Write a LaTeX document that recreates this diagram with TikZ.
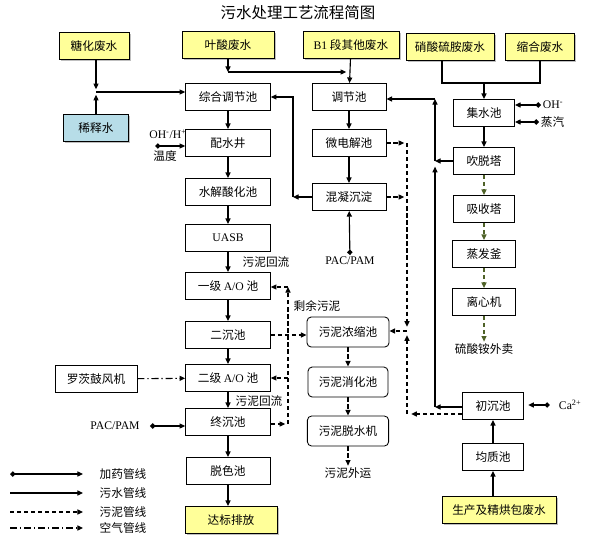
\documentclass[tikz,border=0pt]{standalone}
\usepackage{fontspec}
\setmainfont{Noto Sans CJK SC}
\newfontfamily\lat{Liberation Serif}
\usepackage{tikz}
\usetikzlibrary{arrows.meta}
\usetikzlibrary{shadows}
\definecolor{feedyellow}{RGB}{255,255,153}
\definecolor{dilblue}{RGB}{183,221,232}
\definecolor{olv}{RGB}{79,98,40}

\begin{document}
\begin{tikzpicture}[thick,x=0.025cm,y=-0.025cm,>={Triangle[length=4pt,width=3.6pt]}]

	\tikzstyle{unit} = [draw,line width=0.6pt,fill=white,minimum height=0.675cm,inner sep=1pt,font=\fontsize{8.3pt}{10pt}\selectfont]
	\tikzstyle{feed} = [unit,fill=feedyellow,drop shadow={shadow xshift=1.3pt,shadow yshift=-1.3pt,fill=black!50}]
	\tikzstyle{sludgeunit} = [unit,rounded corners=3pt,minimum height=0.75cm]
	\tikzstyle{lbl} = [inner sep=1pt,font=\fontsize{8.3pt}{10pt}\selectfont]
	\tikzstyle{water} = [->]
	\tikzstyle{dose} = [{Diamond[length=4pt,width=4pt]}-{Triangle[length=4pt,width=3.6pt]}]
	\tikzstyle{sludge} = [->,dash pattern=on 3pt off 2pt]
	\tikzstyle{ammonia} = [sludge,olv]
	\tikzstyle{air} = [->,dash pattern=on 5pt off 2pt on 1pt off 2pt]

	\useasboundingbox (0,0) rectangle (596,545);

	\node[font=\fontsize{11pt}{13pt}\selectfont] (title) at (298,13) {污水处理工艺流程简图};

	% waste water sources
	\node[feed,minimum width=1.75cm] (thfs) at (94,46) {糖化废水};
	\node[feed,minimum width=2.3cm] (ysfs) at (228,45) {叶酸废水};
	\node[feed,minimum width=2.4cm] (b1fs) at (351,45) {{\lat B1} 段其他废水};
	\node[feed,minimum width=2.2cm] (xsfs) at (450,47) {硝酸硫胺废水};
	\node[feed,minimum width=1.72cm] (shfs) at (540,47) {缩合废水};
	\node[feed,fill=dilblue,minimum width=1.62cm] (xss) at (96,128) {稀释水};
	\node[feed,minimum width=2.85cm] (scfs) at (499,510) {生产及精烘包废水};

	% main line
	\node[unit,minimum width=2.12cm] (zhtj) at (228,97) {综合调节池};
	\node[unit,minimum width=2.12cm] (psj) at (228,143) {配水井};
	\node[unit,minimum width=2.12cm] (sjsh) at (228,192) {水解酸化池};
	\node[unit,minimum width=2.12cm] (uasb) at (228,238) {\lat UASB};
	\node[unit,minimum width=2.12cm] (ao1) at (228,286) {一级 {\lat A/O} 池};
	\node[unit,minimum width=2.12cm] (ecc) at (228,335) {二沉池};
	\node[unit,minimum width=2.12cm] (ao2) at (228,378) {二级 {\lat A/O} 池};
	\node[unit,minimum width=2.12cm] (zcc) at (228,422) {终沉池};
	\node[unit,minimum width=2.1cm] (tsc) at (228,471) {脱色池};
	\node[feed,minimum width=2.3cm] (dbpf) at (231,520) {达标排放};
	\node[unit,minimum width=2.05cm] (lcgf) at (96,379) {罗茨鼓风机};

	\node[unit,minimum width=1.85cm] (tjc) at (349,97) {调节池};
	\node[unit,minimum width=1.85cm] (wdj) at (349,143) {微电解池};
	\node[unit,minimum width=1.85cm] (hnct) at (349,197) {混凝沉淀};

	% sludge line
	\node[sludgeunit,minimum width=2.05cm] (wnns) at (348,332) {污泥浓缩池};
	\node[sludgeunit,minimum width=2cm] (wnxh) at (348,382) {污泥消化池};
	\node[sludgeunit,minimum width=2.03cm] (wntg) at (348,431) {污泥脱水机};
	\node[lbl] (wnwy) at (348,473) {污泥外运};

	% ammonium sulphate line
	\node[unit,minimum width=1.53cm] (jsc) at (484,113) {集水池};
	\node[unit,minimum width=1.53cm] (cts) at (484,161) {吹脱塔};
	\node[unit,minimum width=1.53cm] (xst) at (484,209) {吸收塔};
	\node[unit,minimum width=1.57cm] (zff) at (484,254) {蒸发釜};
	\node[unit,minimum width=1.57cm] (lxj) at (484,302) {离心机};
	\node[lbl] (lsa) at (484,349) {硫酸铵外卖};
	\node[unit,minimum width=1.53cm] (ccc) at (493,406) {初沉池};
	\node[unit,minimum width=1.53cm] (jzc) at (493,457) {均质池};

	% labels
	\node[lbl] (hl1) at (266,262) {污泥回流};
	\node[lbl] (hl2) at (259,401) {污泥回流};
	\node[lbl] (sywn) at (317,306) {剩余污泥};
	\node[lbl] (pp1) at (350,261) {\lat PAC/PAM};
	\node[lbl] (pp2) at (115,426) {\lat PAC/PAM};
	\node[lbl] (ohh) at (168,134) {\lat OH\textsuperscript{-}/H\textsuperscript{+}};
	\node[lbl] (wd) at (165,156) {温度};
	\node[lbl,anchor=west] (oh) at (541,105) {\lat OH\textsuperscript{-}};
	\node[lbl,anchor=west] (zq) at (539,122) {蒸汽};
	\node[lbl,anchor=west] (ca) at (557,405) {\lat Ca\textsuperscript{2+}};

	% water pipes
	\coordinate (j1) at (96,92);
	\draw[water,shorten >=2pt] (j1 |- thfs.south) -- (j1);
	\draw[water,shorten >=2pt] (xss) -- (j1);
	\draw[water] (j1) -- (j1 -| zhtj.west);
	\coordinate (j2) at (228,72);
	\coordinate (j3) at (349,72);
	\draw[water] (ysfs) -- (j2);
	\draw[water,shorten >=2pt] (j2) -- (j3);
	\draw[water] (b1fs) -- (tjc);

	\foreach \a/\b in {zhtj/psj,psj/sjsh,sjsh/uasb,uasb/ao1,ao1/ecc,ecc/ao2,ao2/zcc,zcc/tsc,tsc/dbpf}
		\draw[water] (\a) -- (\a |- \b.north);
	\draw[water] (tjc) -- (wdj);
	\draw[water] (wdj) -- (hnct);
	\coordinate (j4) at (293,197);
	\draw[water] (hnct) -- (j4);
	\draw[water] (j4) |- (zhtj.east);

	\coordinate (j5) at (484,83);
	\coordinate (j6) at (442,83);
	\draw (j6 |- xsfs.south) -- (j6) -- (j6 -| shfs.south) -- (shfs.south);
	\draw[water] (j5) -- (jsc);
	\draw[water] (jsc) -- (cts);
	\coordinate (j7) at (435,161);
	\coordinate (j8) at (435,99);
	\coordinate (j9) at (435,407);
	\draw[water] (cts) -- (j7);
	\draw[water] (j7) -- (j8);
	\draw[water] (j8) -- (j8 -| tjc.east);
	\draw[water] (ccc.west |- j9) -- (j9);
	\draw[water,shorten >=4pt] (j9) -- (j7);
	\draw[water] (jzc |- scfs.north) -- (jzc);
	\draw[water] (jzc) -- (ccc);

	% dosing
	\draw[dose] (pp1) -- (hnct);
	\draw[dose,shorten <=6pt] (pp2.east) -- (pp2.east -| zcc.west);
	\coordinate (j10) at (155,146);
	\draw[dose] (j10) -- (j10 -| psj.west);
	\draw[dose] (oh.west) -- (oh.west -| jsc.east);
	\draw[dose] (zq.west) -- (zq.west -| jsc.east);
	\draw[dose,shorten <=5pt,shorten >=3pt] (ca.west) -- (ca.west -| ccc.east);

	% sludge pipes
	\coordinate (s1) at (407,143);
	\coordinate (s2) at (407,197);
	\coordinate (s3) at (407,331);
	\coordinate (s4) at (407,414);
	\draw[sludge,shorten >=2pt] (wdj) -- (s1);
	\draw[sludge,shorten >=2pt] (hnct) -- (s2);
	\draw[sludge,shorten >=3pt] (s1) -- (s3);
	\draw[sludge,shorten >=3pt] (s4) -- (s3);
	\draw[sludge] (s3) -- (s3 -| wnns.east);
	\draw[sludge,shorten >=3pt] (ccc.west |- s4) -- (s4);
	\draw[sludge] (ecc.east) -- (ecc.east -| wnns.west);
	\coordinate (r1) at (288,287);
	\coordinate (r2) at (288,378);
	\coordinate (r3) at (288,424);
	\draw[sludge,shorten >=2pt] (zcc.east |- r3) -- (r3);
	\draw[sludge] (r3) -- (r1);
	\draw[sludge] (r1) -- (r1 -| ao1.east);
	\draw[sludge] (r2) -- (r2 -| ao2.east);
	\draw[sludge] (wnns) -- (wnxh);
	\draw[sludge] (wnxh) -- (wntg);
	\draw[sludge] (wntg) -- (wnwy);

	\foreach \a/\b in {cts/xst,xst/zff,zff/lxj,lxj/lsa}
		\draw[ammonia] (\a) -- (\b);

	% air
	\draw[air] (lcgf) -- (ao2);

	% legend
	\foreach \y/\s/\t [count=\i] in {474/dose/加药管线,493/water/污水管线,512/sludge/污泥管线,528/air/空气管线} {
		\coordinate (lga\i) at (10,\y);
		\coordinate (lgb\i) at (83,\y);
		\draw[\s] (lga\i) -- (lgb\i);
		\node[lbl] (lgt\i) at (123,\y) {\t};
	}
\end{tikzpicture}
\end{document}
